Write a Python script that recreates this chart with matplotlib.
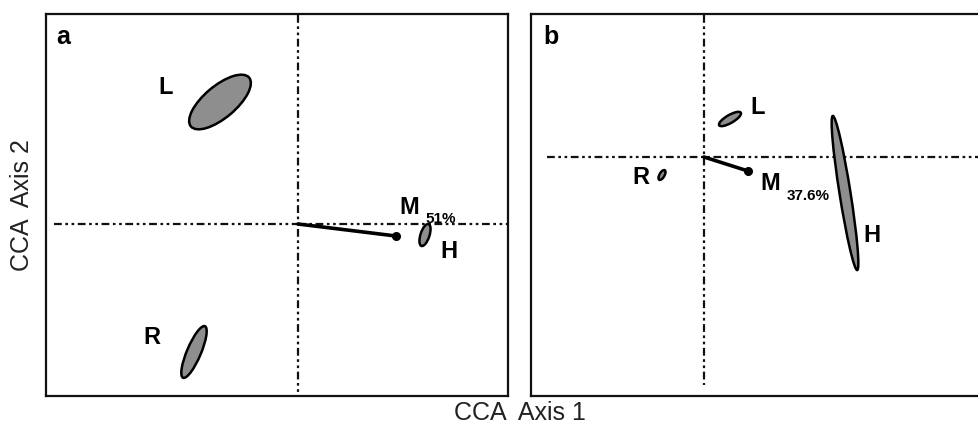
import matplotlib
matplotlib.use("Agg")
import matplotlib.pyplot as plt
from matplotlib.patches import Ellipse

plt.rcParams['font.family'] = ['Liberation Sans', 'DejaVu Sans']

# ---- data (CCA scores, arbitrary units) ----
panel_letters = ["a", "b"]
groups = ["L", "R", "H"]

# panel a
a_cx = [-0.78, -1.04, 1.27]
a_cy = [1.22, -1.28, -0.11]
a_w = [0.76, 0.56, 0.23]
a_h = [0.32, 0.14, 0.09]
a_ang = [40, 67, 72]
a_lab_x = [-1.32, -1.46, 1.51]
a_lab_y = [1.36, -1.14, -0.28]
a_vec = [0.98, -0.12]
a_vec_name = "M"
a_vec_pct = "51%"

# panel b
b_cx = [0.26, -0.42, 1.41]
b_cy = [0.38, -0.18, -0.36]
b_w = [0.25, 0.11, 1.56]
b_h = [0.08, 0.05, 0.11]
b_ang = [30, 60, -81]
b_lab_x = [0.54, -0.63, 1.68]
b_lab_y = [0.49, -0.21, -0.79]
b_vec = [0.44, -0.14]
b_vec_name = "M"
b_vec_pct = "37.6%"

x_label = "CCA  Axis 1"
y_label = "CCA  Axis 2"

fig = plt.figure(figsize=(9.79, 4.25), dpi=100)
axA = fig.add_axes([46/979, 29/425, 462/979, 382/425])
axB = fig.add_axes([531/979, 29/425, 448/979, 382/425])

dash = (0, (3.5, 1.6, 1.2, 1.6, 1.2, 1.6))


def draw(ax, cx, cy, w, h, ang, lx, ly, vec, vname, vpct, xlim, ylim,
         hline_x0, vline_y, letter, name_pos, pct_pos):
    ax.set_xlim(*xlim)
    ax.set_ylim(*ylim)
    ax.plot([hline_x0, xlim[1]], [0, 0], color='#111111', lw=1.6,
            linestyle=dash, zorder=1)
    ax.plot([0, 0], vline_y, color='#111111', lw=1.6, linestyle=dash, zorder=1)
    for i in range(len(cx)):
        e = Ellipse((cx[i], cy[i]), w[i], h[i], angle=ang[i],
                    facecolor='#8e8e8e', edgecolor='black', lw=1.8, zorder=3)
        ax.add_patch(e)
        ax.text(lx[i], ly[i], groups[i], fontsize=17, fontweight='bold',
                ha='center', va='center', zorder=4)
    ax.plot([0, vec[0]], [0, vec[1]], color='black', lw=2.6,
            solid_capstyle='round', zorder=4)
    ax.plot([vec[0]], [vec[1]], 'o', color='black', ms=5.5, zorder=5)
    ax.text(name_pos[0], name_pos[1], vname, fontsize=17, fontweight='bold',
            ha='center', va='center', zorder=4)
    ax.text(pct_pos[0], pct_pos[1], vpct, fontsize=11, fontweight='bold',
            ha='center', va='center', zorder=4)
    ax.text(0.037 if letter == "a" else 0.045, 0.94, letter, transform=ax.transAxes,
            fontsize=18, fontweight='bold', ha='center', va='center')
    ax.set_xticks([])
    ax.set_yticks([])
    for s in ax.spines.values():
        s.set_linewidth(1.6)
        s.set_color('#111111')


draw(axA, a_cx, a_cy, a_w, a_h, a_ang, a_lab_x, a_lab_y, a_vec, a_vec_name,
     a_vec_pct, (-2.52, 2.10), (-1.72, 2.10), -2.44, [2.09, -1.69], "a",
     (1.11, 0.16), (1.43, 0.05))
draw(axB, b_cx, b_cy, b_w, b_h, b_ang, b_lab_x, b_lab_y, b_vec, b_vec_name,
     b_vec_pct, (-1.73, 2.75), (-2.39, 1.43), -1.57, [1.42, -2.28], "b",
     (0.66, -0.26), (1.04, -0.39))
axB.spines['right'].set_visible(False)

fig.text(520/979, 1 - 413/425, x_label, fontsize=18, color='#222222',
         ha='center', va='center')
fig.text(22/979, 1 - 205/425, y_label, fontsize=18, color='#222222',
         ha='center', va='center', rotation=90)

fig.savefig("out.png", dpi=100)
